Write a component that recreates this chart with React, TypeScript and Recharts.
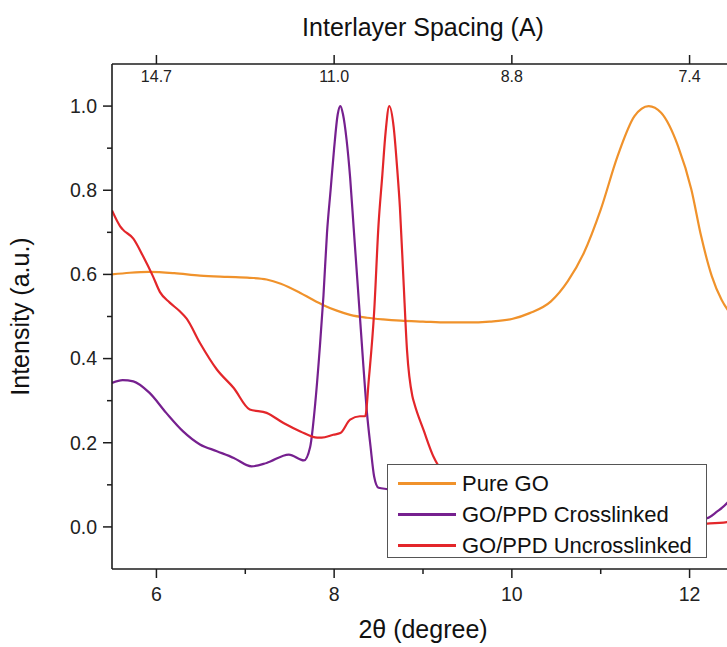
import { LineChart, Line, XAxis, YAxis, Legend, Label } from 'recharts'

// 2θ positions and normalised intensities
const goX = [5.5, 5.7, 5.92, 6.2, 6.49, 6.8, 7.05, 7.24, 7.4, 7.62, 7.75, 7.88, 8.03, 8.18, 8.37, 8.55, 8.75, 9.0, 9.27, 9.5, 9.75, 10.0, 10.2, 10.44, 10.63, 10.81, 11.0, 11.19, 11.38, 11.54, 11.68, 11.87, 12.02, 12.13, 12.25, 12.36, 12.44, 12.5]
const goY = [0.6, 0.604, 0.606, 0.603, 0.597, 0.594, 0.592, 0.588, 0.578, 0.556, 0.541, 0.527, 0.514, 0.504, 0.497, 0.493, 0.49, 0.488, 0.486, 0.486, 0.488, 0.494, 0.508, 0.536, 0.584, 0.651, 0.754, 0.881, 0.976, 1.0, 0.984, 0.905, 0.802, 0.691, 0.596, 0.54, 0.513, 0.5]

const crossX = [5.5, 5.62, 5.74, 5.92, 6.11, 6.3, 6.49, 6.68, 6.87, 7.07, 7.24, 7.49, 7.66, 7.73, 7.79, 7.84, 7.88, 7.92, 7.96, 8.0, 8.04, 8.07, 8.1, 8.14, 8.18, 8.22, 8.26, 8.3, 8.33, 8.37, 8.41, 8.45, 8.5, 8.6, 8.8, 9.0, 9.5, 10.0, 10.5, 11.0, 11.5, 11.9, 12.2, 12.3, 12.44, 12.5]
const crossY = [0.342, 0.349, 0.346, 0.319, 0.271, 0.227, 0.196, 0.18, 0.164, 0.144, 0.152, 0.172, 0.158, 0.19, 0.3, 0.43, 0.55, 0.7, 0.8, 0.9, 0.98, 1.0, 0.98, 0.92, 0.83, 0.71, 0.59, 0.47, 0.38, 0.27, 0.19, 0.12, 0.093, 0.09, 0.085, 0.075, 0.055, 0.04, 0.025, 0.015, 0.01, 0.012, 0.021, 0.035, 0.061, 0.08]

const uncrossX = [5.5, 5.59, 5.62, 5.74, 5.85, 5.96, 6.04, 6.15, 6.26, 6.34, 6.49, 6.68, 6.87, 7.05, 7.24, 7.43, 7.62, 7.81, 7.86, 7.99, 8.07, 8.18, 8.29, 8.35, 8.39, 8.45, 8.5, 8.54, 8.58, 8.62, 8.67, 8.71, 8.74, 8.78, 8.82, 8.88, 8.9, 9.01, 9.12, 9.16, 9.3, 9.5, 10.0, 10.5, 11.0, 11.5, 12.0, 12.2, 12.44, 12.5]
const uncrossY = [0.752, 0.715, 0.707, 0.685, 0.643, 0.596, 0.558, 0.533, 0.513, 0.495, 0.437, 0.374, 0.33, 0.279, 0.271, 0.247, 0.227, 0.212, 0.212, 0.219, 0.223, 0.255, 0.263, 0.263, 0.35, 0.51, 0.72, 0.83, 0.94, 1.0, 0.95, 0.85, 0.76, 0.588, 0.42, 0.311, 0.295, 0.228, 0.166, 0.15, 0.12, 0.09, 0.05, 0.03, 0.02, 0.012, 0.007, 0.008, 0.012, 0.015]

const seriesNames = ['Pure GO', 'GO/PPD Crosslinked', 'GO/PPD Uncrosslinked']
const seriesColors = ['#f0922b', '#76208f', '#e3262a']

const bottomTicks = [6, 7, 8, 9, 10, 11, 12]
const bottomMajor = [6, 8, 10, 12]
const topTicks = [6, 8, 10, 12]
const topTickLabels = ['14.7', '11.0', '8.8', '7.4']
const yTicks = [0, 0.1, 0.2, 0.3, 0.4, 0.5, 0.6, 0.7, 0.8, 0.9, 1.0]
const yMajor = [0, 0.2, 0.4, 0.6, 0.8, 1.0]

const FONT = '"Liberation Sans", Arial, sans-serif'
const INK = '#1c1c1c'

const toPoints = (xs: number[], ys: number[]) => xs.map((x, i) => ({ x, y: ys[i] }))
const goData = toPoints(goX, goY)
const crossData = toPoints(crossX, crossY)
const uncrossData = toPoints(uncrossX, uncrossY)

function BottomTick({ x, y, payload }: any) {
  const major = bottomMajor.includes(payload.value)
  return (
    <g>
      <line x1={x} x2={x} y1={y} y2={y + (major ? 9 : 5)} stroke={INK} strokeWidth={1.5} />
      {major && (
        <text x={x} y={y + 18} dy="0.71em" textAnchor="middle" fontSize={19.5} fill="#222" fontFamily={FONT}>
          {payload.value}
        </text>
      )}
    </g>
  )
}

function TopTick({ x, y, payload }: any) {
  const label = topTickLabels[topTicks.indexOf(payload.value)]
  return (
    <g>
      <line x1={x} x2={x} y1={y} y2={y - 9} stroke={INK} strokeWidth={1.5} />
      <text x={x} y={y + 12.5} dy="0.35em" textAnchor="middle" fontSize={16} fill="#222" fontFamily={FONT}>
        {label}
      </text>
    </g>
  )
}

function LeftTick({ x, y, payload }: any) {
  const major = yMajor.some((v) => Math.abs(v - payload.value) < 1e-6)
  return (
    <g>
      <line x1={x - (major ? 9 : 5)} x2={x} y1={y} y2={y} stroke={INK} strokeWidth={1.5} />
      {major && (
        <text x={x - 15} y={y} dy="0.35em" textAnchor="end" fontSize={19.5} fill="#222" fontFamily={FONT}>
          {payload.value.toFixed(1)}
        </text>
      )}
    </g>
  )
}

function LegendBox() {
  return (
    <div
      style={{
        boxSizing: 'border-box',
        width: 320,
        height: 94,
        border: '1px solid #555',
        background: '#fff',
        paddingTop: 3,
        fontFamily: FONT,
      }}
    >
      {seriesNames.map((name, i) => (
        <div key={name} style={{ display: 'flex', alignItems: 'center', height: 31 }}>
          <span style={{ display: 'inline-block', width: 58, height: 2.5, background: seriesColors[i], marginLeft: 10, marginRight: 6 }} />
          <span style={{ fontSize: 22, color: '#111', lineHeight: '31px' }}>{name}</span>
        </div>
      ))}
    </div>
  )
}

export default function App() {
  const axisLine = { stroke: INK, strokeWidth: 1.6 }
  return (
    <div style={{ position: 'absolute', left: 0, top: 0, width: 727, height: 647, overflow: 'hidden', background: '#fff' }}>
      <LineChart width={770} height={647} margin={{ top: 0, right: 36, bottom: 0, left: 0 }}>
        <XAxis
          xAxisId="bottom"
          type="number"
          dataKey="x"
          domain={[5.5, 12.5]}
          allowDataOverflow
          ticks={bottomTicks}
          interval={0}
          height={78}
          tickSize={0}
          tickMargin={0}
          tickLine={false}
          axisLine={axisLine}
          tick={<BottomTick />}
        >
          <Label value="2θ (degree)" position="insideBottom" offset={9} fontSize={25} fill="#111" fontFamily={FONT} />
        </XAxis>
        <XAxis
          xAxisId="top"
          orientation="top"
          type="number"
          dataKey="x"
          domain={[5.5, 12.5]}
          allowDataOverflow
          ticks={topTicks}
          interval={0}
          height={64}
          tickSize={0}
          tickMargin={0}
          tickLine={false}
          axisLine={axisLine}
          tick={<TopTick />}
        >
          <Label value="Interlayer Spacing (A)" position="insideTop" offset={18} fontSize={25} fill="#111" fontFamily={FONT} />
        </XAxis>
        <YAxis
          yAxisId="left"
          type="number"
          domain={[-0.1, 1.1]}
          allowDataOverflow
          ticks={yTicks}
          interval={0}
          width={112}
          tickSize={0}
          tickMargin={0}
          tickLine={false}
          axisLine={axisLine}
          tick={<LeftTick />}
        >
          <Label
            value="Intensity (a.u.)"
            angle={-90}
            position="insideLeft"
            offset={20}
            fontSize={25}
            fill="#111"
            fontFamily={FONT}
            style={{ textAnchor: 'middle' }}
          />
        </YAxis>
        <Line data={goData} xAxisId="bottom" yAxisId="left" dataKey="y" name={seriesNames[0]} type="monotone" stroke={seriesColors[0]} strokeWidth={2.2} dot={false} isAnimationActive={false} />
        <Line data={crossData} xAxisId="bottom" yAxisId="left" dataKey="y" name={seriesNames[1]} type="monotone" stroke={seriesColors[1]} strokeWidth={2.2} dot={false} isAnimationActive={false} />
        <Line data={uncrossData} xAxisId="bottom" yAxisId="left" dataKey="y" name={seriesNames[2]} type="monotone" stroke={seriesColors[2]} strokeWidth={2.2} dot={false} isAnimationActive={false} />
        <Legend
          layout="vertical"
          align="center"
          verticalAlign="middle"
          wrapperStyle={{ left: 387, top: 464, width: 320, height: 94 }}
          content={<LegendBox />}
        />
      </LineChart>
    </div>
  )
}
